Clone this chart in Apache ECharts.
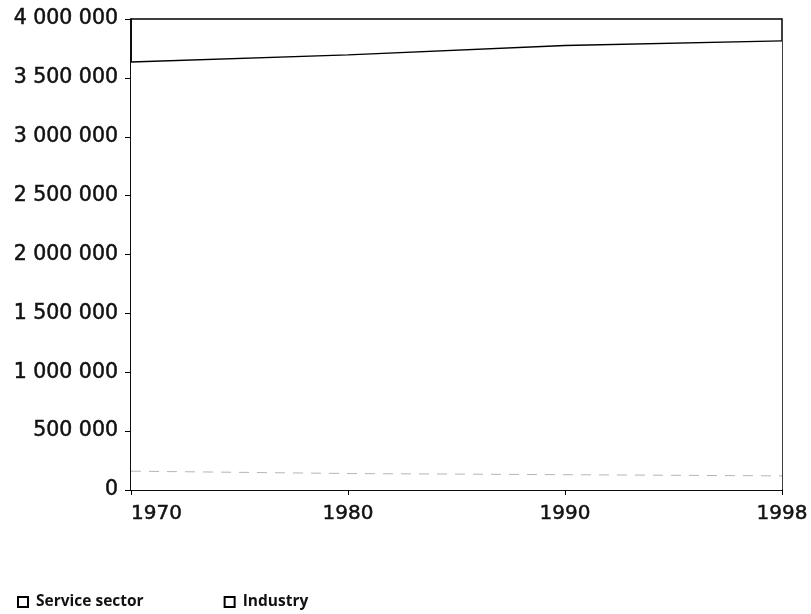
<!DOCTYPE html>
<html><head><meta charset="utf-8">
<script src="https://cdn.jsdelivr.net/npm/echarts@6/dist/echarts.min.js"></script>
<style>html,body{margin:0;padding:0;background:#fff}#c{width:811px;height:614px}</style>
</head><body><div id="c"></div>
<script>
const years = ['1970', '1980', '1990', '1998'];
const industry = [160000, 140000, 130000, 120000];
const serviceSector = [3475000, 3555000, 3645000, 3695000];
const yTicks = [0, 500000, 1000000, 1500000, 2000000, 2500000, 3000000, 3500000, 4000000];

function fmt(v) { return String(v).replace(/\B(?=(\d{3})+(?!\d))/g, ' '); }

const chart = echarts.init(document.getElementById('c'));
chart.setOption({
  animation: false,
  backgroundColor: '#fff',
  grid: { left: 131, right: 29, top: 19, bottom: 124, show: true, borderColor: '#000', borderWidth: 1.5, backgroundColor: 'transparent' },
  legend: {
    data: ['Service sector', 'Industry'],
    left: 17, bottom: 4, padding: 0, itemGap: 80, itemWidth: 10, itemHeight: 10, icon: 'rect',
    textStyle: { fontFamily: 'Open Sans', fontWeight: 'bold', fontSize: 15.5, color: '#111', padding: [0, 0, 0, 3] }
  },
  xAxis: {
    type: 'category', data: years, boundaryGap: false,
    axisLine: { lineStyle: { color: '#000', width: 1.5 } },
    axisTick: { show: true, length: 5, lineStyle: { color: '#000' } },
    axisLabel: { fontFamily: 'DejaVu Sans', fontSize: 20, color: '#111', textBorderColor: '#111', textBorderWidth: 0.5, margin: 14, alignMinLabel: 'left', alignMaxLabel: 'center' }
  },
  yAxis: {
    type: 'value', min: yTicks[0], max: yTicks[yTicks.length - 1], interval: 500000,
    splitLine: { show: false },
    axisLine: { show: true, lineStyle: { color: '#000', width: 1.5 } },
    axisTick: { show: true, length: 6, lineStyle: { color: '#000' } },
    axisLabel: { fontFamily: 'DejaVu Sans', fontSize: 20.5, color: '#111', textBorderColor: '#111', textBorderWidth: 0.5, margin: 13, formatter: fmt }
  },
  series: [
    {
      name: 'Industry', type: 'line', stack: 'total', data: industry, symbol: 'none',
      lineStyle: { color: '#b5b5b5', width: 1, type: [10, 8] },
      areaStyle: { color: '#fff', opacity: 1 },
      itemStyle: { color: '#fff', borderColor: '#000', borderWidth: 1 }
    },
    {
      name: 'Service sector', type: 'line', stack: 'total', data: serviceSector, symbol: 'none',
      lineStyle: { color: '#000', width: 1.3 },
      areaStyle: { color: '#fff', opacity: 1 },
      itemStyle: { color: '#fff', borderColor: '#000', borderWidth: 1 }
    }
  ]
});
</script></body></html>
